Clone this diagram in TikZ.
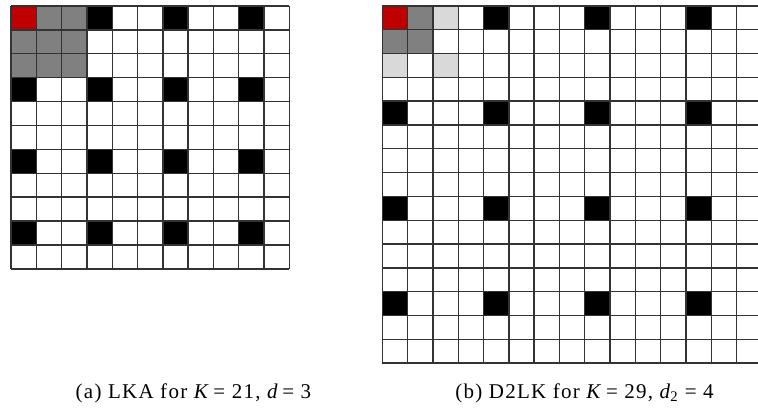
\documentclass[tikz,border=0pt]{standalone}
\usepackage{fontspec}
\setmainfont{Liberation Serif}[LetterSpace=6]
\definecolor{seedred}{RGB}{192,0,0}
\definecolor{kernelgray}{RGB}{128,128,128}
\definecolor{dilatedgray}{RGB}{217,217,217}
\begin{document}
\begin{tikzpicture}[x=1pt, y=-1pt,
  gridline/.style={draw=black!80, line width=1.4pt},
  caption/.style={inner sep=0pt, font=\fontsize{21}{25}\selectfont}]

  \useasboundingbox (0,0) rectangle (758,409);
  \clip (0,0) rectangle (758,409);

  % (a) LKA, 11 x 11 cells
  \begin{scope}[shift={(11,6)}, x=25.3pt, y=-23.9pt]
    \foreach \r in {0,3,6,9} {
      \foreach \c in {0,3,6,9} {
        \fill[black] (\c,\r) rectangle ++(1,1);
      }
    }
    \foreach \c/\r in {1/0, 2/0, 0/1, 1/1, 2/1, 0/2, 1/2, 2/2} {
      \fill[kernelgray] (\c,\r) rectangle ++(1,1);
    }
    \fill[seedred] (0,0) rectangle (1,1);
    \foreach \i in {0,...,11} {
      \draw[gridline] (\i,0) -- (\i,11);
      \draw[gridline] (0,\i) -- (11,\i);
    }
  \end{scope}

  % (b) D2LK, 15 x 15 cells (cut at the right edge)
  \begin{scope}[shift={(382.3,6)}, x=25.3pt, y=-23.8pt]
    \foreach \r in {0,4,8,12} {
      \foreach \c in {0,4,8,12} {
        \fill[black] (\c,\r) rectangle ++(1,1);
      }
    }
    \foreach \c/\r in {1/0, 0/1, 1/1} {
      \fill[kernelgray] (\c,\r) rectangle ++(1,1);
    }
    \foreach \c/\r in {2/0, 0/2, 2/2} {
      \fill[dilatedgray] (\c,\r) rectangle ++(1,1);
    }
    \fill[seedred] (0,0) rectangle (1,1);
    \foreach \i in {0,...,15} {
      \draw[gridline] (\i,0) -- (\i,15);
      \draw[gridline] (0,\i) -- (15,\i);
    }
  \end{scope}

  % captions
  \node[caption] (capa) at (193.5,393)
    {(a) LKA for \textit{K}\,= 21, \textit{d}\,= 3};
  \node[caption] (capb) at (584.5,393)
    {(b) D2LK for \textit{K}\,= 29, \textit{d}\kern-1pt\textsubscript{2} = 4};

\end{tikzpicture}
\end{document}
